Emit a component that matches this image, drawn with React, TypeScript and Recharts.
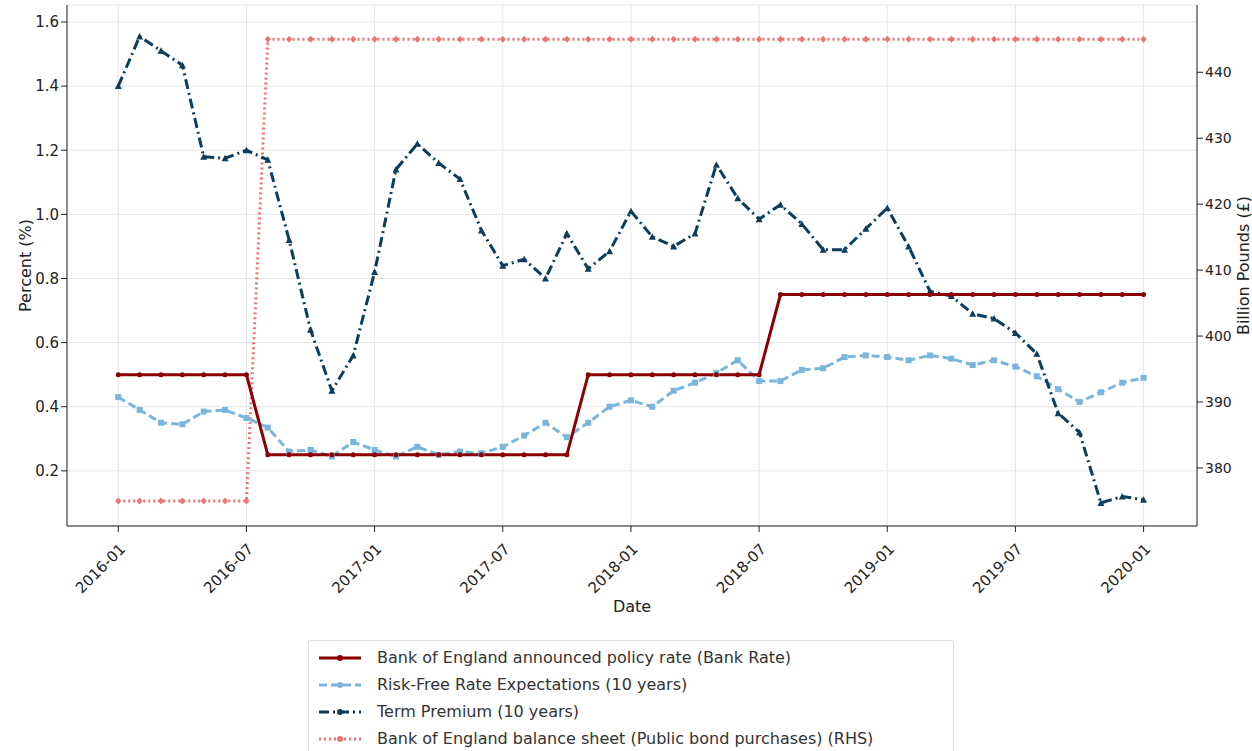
import { LineChart, Line, XAxis, YAxis, CartesianGrid, Label } from 'recharts';

const MONTHS = Array.from({ length: 49 }, (_, i) => {
  const y = 2016 + Math.floor(i / 12);
  const m = (i % 12) + 1;
  return `${y}-${m < 10 ? '0' + m : m}`;
});

const BANK_RATE = [
  0.5, 0.5, 0.5, 0.5, 0.5, 0.5, 0.5,
  0.25, 0.25, 0.25, 0.25, 0.25, 0.25, 0.25, 0.25, 0.25, 0.25, 0.25, 0.25, 0.25, 0.25, 0.25,
  0.5, 0.5, 0.5, 0.5, 0.5, 0.5, 0.5, 0.5, 0.5,
  0.75, 0.75, 0.75, 0.75, 0.75, 0.75, 0.75, 0.75, 0.75, 0.75, 0.75, 0.75, 0.75, 0.75, 0.75, 0.75, 0.75, 0.75,
];

const RISK_FREE = [
  0.43, 0.39, 0.35, 0.345, 0.385, 0.39, 0.365, 0.335, 0.26, 0.265, 0.245, 0.29,
  0.265, 0.245, 0.275, 0.25, 0.26, 0.255, 0.275, 0.31, 0.35, 0.305, 0.35, 0.4,
  0.42, 0.4, 0.45, 0.475, 0.505, 0.545, 0.48, 0.48, 0.515, 0.52, 0.555, 0.56,
  0.555, 0.545, 0.56, 0.55, 0.53, 0.545, 0.525, 0.495, 0.455, 0.415, 0.445, 0.475,
  0.49,
];

const TERM_PREMIUM = [
  1.4, 1.555, 1.51, 1.465, 1.18, 1.175, 1.2, 1.17, 0.92, 0.64, 0.45, 0.56,
  0.82, 1.14, 1.22, 1.16, 1.11, 0.95, 0.84, 0.86, 0.8, 0.94, 0.83, 0.885,
  1.01, 0.93, 0.9, 0.94, 1.155, 1.05, 0.985, 1.03, 0.97, 0.89, 0.89, 0.955,
  1.02, 0.9, 0.76, 0.745, 0.69, 0.675, 0.63, 0.565, 0.38, 0.32, 0.1, 0.12,
  0.11,
];

const BALANCE_SHEET = [
  375, 375, 375, 375, 375, 375, 375,
  ...Array.from({ length: 42 }, () => 445),
];

const LEFT_TICKS = [0.2, 0.4, 0.6, 0.8, 1.0, 1.2, 1.4, 1.6];
const RIGHT_TICKS = [380, 390, 400, 410, 420, 430, 440];
const X_TICKS = [0, 6, 12, 18, 24, 30, 36, 42, 48];

const C_BANK = '#8b0000';
const C_RF = '#7ab6dc';
const C_TP = '#0b3d5c';
const C_BS = '#f07272';

const data = MONTHS.map((m, i) => ({
  i, date: m, bank: BANK_RATE[i], rf: RISK_FREE[i], tp: TERM_PREMIUM[i], bs: BALANCE_SHEET[i],
}));

const Circle = (c: string) => (p: any) => <circle key={p.index} cx={p.cx} cy={p.cy} r={2.5} fill={c} />;
const Square = (c: string) => (p: any) => <rect key={p.index} x={p.cx - 3} y={p.cy - 3} width={6} height={6} fill={c} />;
const Tri = (c: string) => (p: any) => (
  <path key={p.index} d={`M${p.cx},${p.cy - 3.5}L${p.cx + 3.5},${p.cy + 3}L${p.cx - 3.5},${p.cy + 3}Z`} fill={c} />
);
const Diamond = (c: string) => (p: any) => (
  <path key={p.index} d={`M${p.cx},${p.cy - 3.5}L${p.cx + 3},${p.cy}L${p.cx},${p.cy + 3.5}L${p.cx - 3},${p.cy}Z`} fill={c} />
);

const XTick = ({ x, y, payload }: any) => (
  <text x={x} y={y + 8} transform={`rotate(-45 ${x} ${y + 8})`} textAnchor="end" dominantBaseline="hanging"
    fontSize={15} fill="#222">{MONTHS[payload.value]}</text>
);

const LEGEND = [
  { label: 'Bank of England announced policy rate (Bank Rate)', color: C_BANK, dash: '' },
  { label: 'Risk-Free Rate Expectations (10 years)', color: C_RF, dash: '8 4' },
  { label: 'Term Premium (10 years)', color: C_TP, dash: '10 4 2 4' },
  { label: 'Bank of England balance sheet (Public bond purchases) (RHS)', color: C_BS, dash: '2 3' },
];

export default function App() {
  return (
    <div style={{ position: 'absolute', left: 0, top: 0, width: 1252, height: 751, background: '#fff', fontFamily: 'DejaVu Sans, sans-serif' }}>
      <LineChart width={1252} height={630} data={data} margin={{ top: 5, right: 0, bottom: 0, left: 7 }}>
        <CartesianGrid yAxisId="l" stroke="#e6e6e6" />
        <XAxis dataKey="i" type="number" domain={[-2.4, 50.5]} ticks={X_TICKS} tick={<XTick />} height={104}
          stroke="#222" tickLine={{ stroke: '#222' }}>
          <Label value="Date" position="insideBottom" offset={18} fontSize={16} fill="#222" />
        </XAxis>
        <YAxis yAxisId="l" domain={[0.028, 1.653]} ticks={LEFT_TICKS} tickFormatter={(v: number) => v.toFixed(1)}
          width={60} tick={{ fontSize: 15, fill: '#222' }} stroke="#222">
          <Label value="Percent (%)" angle={-90} position="insideLeft" offset={18} fontSize={16} fill="#222" style={{ textAnchor: 'middle' }} />
        </YAxis>
        <YAxis yAxisId="r" orientation="right" domain={[371.2, 450.2]} ticks={RIGHT_TICKS} width={55}
          tick={{ fontSize: 14, fill: '#222' }} stroke="#222">
          <Label value="Billion Pounds (£)" angle={-90} position="insideRight" offset={9} fontSize={16} fill="#222" style={{ textAnchor: 'middle' }} />
        </YAxis>
        <Line yAxisId="r" dataKey="bs" stroke={C_BS} strokeWidth={3} strokeDasharray="2 3" dot={Diamond(C_BS)} isAnimationActive={false} />
        <Line yAxisId="l" dataKey="rf" stroke={C_RF} strokeWidth={3} strokeDasharray="8 4" dot={Square(C_RF)} isAnimationActive={false} />
        <Line yAxisId="l" dataKey="tp" stroke={C_TP} strokeWidth={3} strokeDasharray="10 4 2 4" dot={Tri(C_TP)} isAnimationActive={false} />
        <Line yAxisId="l" dataKey="bank" stroke={C_BANK} strokeWidth={3} dot={Circle(C_BANK)} isAnimationActive={false} />
      </LineChart>
      <div style={{ position: 'absolute', left: 308, top: 640, width: 628, border: '1px solid #ddd', borderRadius: 3, padding: '3px 8px' }}>
        {LEGEND.map(l => (
          <div key={l.label} style={{ display: 'flex', alignItems: 'center', height: 27, fontSize: 16, color: '#333' }}>
            <svg width={46} height={12} style={{ marginRight: 14 }}>
              <line x1={2} y1={6} x2={44} y2={6} stroke={l.color} strokeWidth={3} strokeDasharray={l.dash} />
              <circle cx={23} cy={6} r={3} fill={l.color} />
            </svg>
            {l.label}
          </div>
        ))}
      </div>
    </div>
  );
}
